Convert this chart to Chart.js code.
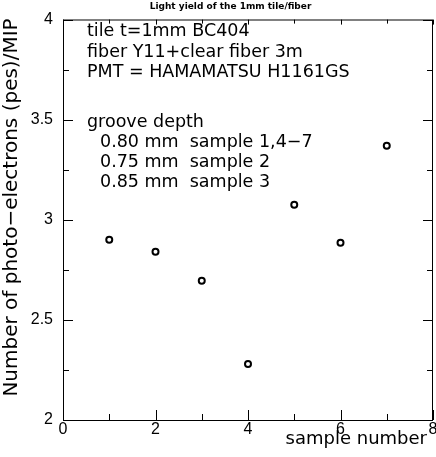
<!DOCTYPE html>
<html>
<head>
<meta charset="utf-8">
<script src="https://cdn.jsdelivr.net/npm/chart.js@4.4.0/dist/chart.umd.min.js"></script>
<style>
  html, body { margin: 0; padding: 0; background: #fff; }
  #wrap { width: 436px; height: 457px; }
</style>
</head>
<body>
<div id="wrap"><canvas id="chart"></canvas></div>
<script>
// --- données ---
const sampleNumbers = [1, 2, 3, 4, 5, 6, 7];
const lightYield = [2.90, 2.84, 2.695, 2.28, 3.075, 2.885, 3.37];

// axes
const xMin = 0, xMax = 8;
const yMin = 2, yMax = 4;
const xMajorTicks = [0, 2, 4, 6, 8];
const xMinorTicks = [1, 3, 5, 7];
const yMajorTicks = [2, 2.5, 3, 3.5, 4];
const yMinorTicks = [2.25, 2.75, 3.25, 3.75];

// textes
const chartTitle = 'Light yield of the 1mm tile/fiber';
const xTitle = 'sample number';
const yTitle = 'Number of photo\u2212electrons (pes)/MIP';
const infoLines = [
    'tile t=1mm BC404',
    'fiber Y11+clear fiber 3m',
    'PMT = HAMAMATSU H1161GS',
    'groove depth',
    '  0.80 mm  sample 1,4\u22127',
    '  0.75 mm  sample 2',
    '  0.85 mm  sample 3'
];

const TEXT_FONT = '"DejaVu Sans", "Liberation Sans", sans-serif';

// cadre, graduations intérieures et textes
const framePlugin = {
    id: 'frame',
    afterDraw(chart) {
        const ctx = chart.ctx;
        const a = chart.chartArea;
        const xs = chart.scales.x, ys = chart.scales.y;
        ctx.save();

        // cadre
        ctx.lineWidth = 1;
        ctx.strokeStyle = '#000';
        ctx.beginPath();
        ctx.moveTo(a.left + 0.5, a.top);
        ctx.lineTo(a.left + 0.5, a.bottom + 0.5);
        ctx.lineTo(a.right - 0.5, a.bottom + 0.5);
        ctx.lineTo(a.right - 0.5, a.top);
        ctx.stroke();
        ctx.strokeStyle = '#808080';
        ctx.lineWidth = 2;
        ctx.beginPath();
        ctx.moveTo(a.left, a.top + 0.5);
        ctx.lineTo(a.right, a.top + 0.5);
        ctx.stroke();

        // graduations
        ctx.lineWidth = 1;
        ctx.strokeStyle = '#000';
        ctx.beginPath();
        const yTick = (v, len) => {
            const py = Math.round(ys.getPixelForValue(v)) + 0.5;
            ctx.moveTo(a.left, py); ctx.lineTo(a.left + len, py);
            ctx.moveTo(a.right, py); ctx.lineTo(a.right - len, py);
        };
        const xTick = (v, len, topLen) => {
            const px = Math.round(xs.getPixelForValue(v)) + 0.5;
            ctx.moveTo(px, a.bottom); ctx.lineTo(px, a.bottom - len);
            ctx.moveTo(px, a.top); ctx.lineTo(px, a.top + topLen);
        };
        yMajorTicks.forEach(v => yTick(v, 10));
        yMinorTicks.forEach(v => yTick(v, 6));
        xMajorTicks.forEach(v => xTick(v, 10, 5));
        xMinorTicks.forEach(v => xTick(v, 6, 4));
        ctx.stroke();

        // titre
        ctx.fillStyle = '#000';
        ctx.font = 'bold 9px ' + TEXT_FONT;
        ctx.textAlign = 'center';
        ctx.textBaseline = 'alphabetic';
        ctx.fillText(chartTitle, 230.5, 9);

        // titre axe x
        ctx.font = '18px ' + TEXT_FONT;
        ctx.textAlign = 'right';
        ctx.fillText(xTitle, 427, 444);

        // titre axe y
        ctx.save();
        ctx.translate(17.3, 207.5);
        ctx.rotate(-Math.PI / 2);
        ctx.font = '20px ' + TEXT_FONT;
        ctx.textAlign = 'center';
        ctx.fillText(yTitle, 0, 0);
        ctx.restore();

        // légende texte
        ctx.font = '17.5px ' + TEXT_FONT;
        ctx.textAlign = 'left';
        const baselines = [36, 56.5, 77, 126.5, 146.7, 166.7, 186.7];
        infoLines.forEach((line, i) => {
            const indent = line.startsWith('  ') ? 100 : 87;
            ctx.fillText(line.trim(), indent, baselines[i]);
        });

        ctx.restore();
    }
};

const ctx = document.getElementById('chart').getContext('2d');
new Chart(ctx, {
    type: 'scatter',
    data: {
        datasets: [{
            label: 'light yield',
            data: sampleNumbers.map((x, i) => ({ x: x, y: lightYield[i] })),
            pointStyle: 'circle',
            pointRadius: 3,
            pointBorderWidth: 2,
            pointBackgroundColor: '#fff',
            pointBorderColor: '#000'
        }]
    },
    options: {
        responsive: true,
        maintainAspectRatio: false,
        animation: false,
        layout: { autoPadding: false, padding: { top: 14, right: 3, left: 0, bottom: 0 } },
        plugins: {
            legend: { display: false },
            tooltip: { enabled: false }
        },
        scales: {
            x: {
                type: 'linear',
                min: xMin,
                max: xMax,
                grid: { display: false, drawTicks: false },
                border: { display: false },
                ticks: {
                    stepSize: 2,
                    padding: 0,
                    color: '#000',
                    maxRotation: 0,
                    font: { family: '"Liberation Sans", Arial, sans-serif', size: 16 },
                    callback: v => String(v)
                },
                afterFit(scale) {
                    scale.height = 37;
                    scale.paddingRight = 0;
                    scale.paddingLeft = 0;
                }
            },
            y: {
                type: 'linear',
                min: yMin,
                max: yMax,
                grid: { display: false, drawTicks: false },
                border: { display: false },
                ticks: {
                    stepSize: 0.5,
                    padding: 10,
                    color: '#000',
                    font: { family: '"Liberation Sans", Arial, sans-serif', size: 16 },
                    callback: v => String(v)
                },
                afterFit(scale) {
                    scale.width = 63;
                }
            }
        }
    },
    plugins: [framePlugin]
});
</script>
</body>
</html>
